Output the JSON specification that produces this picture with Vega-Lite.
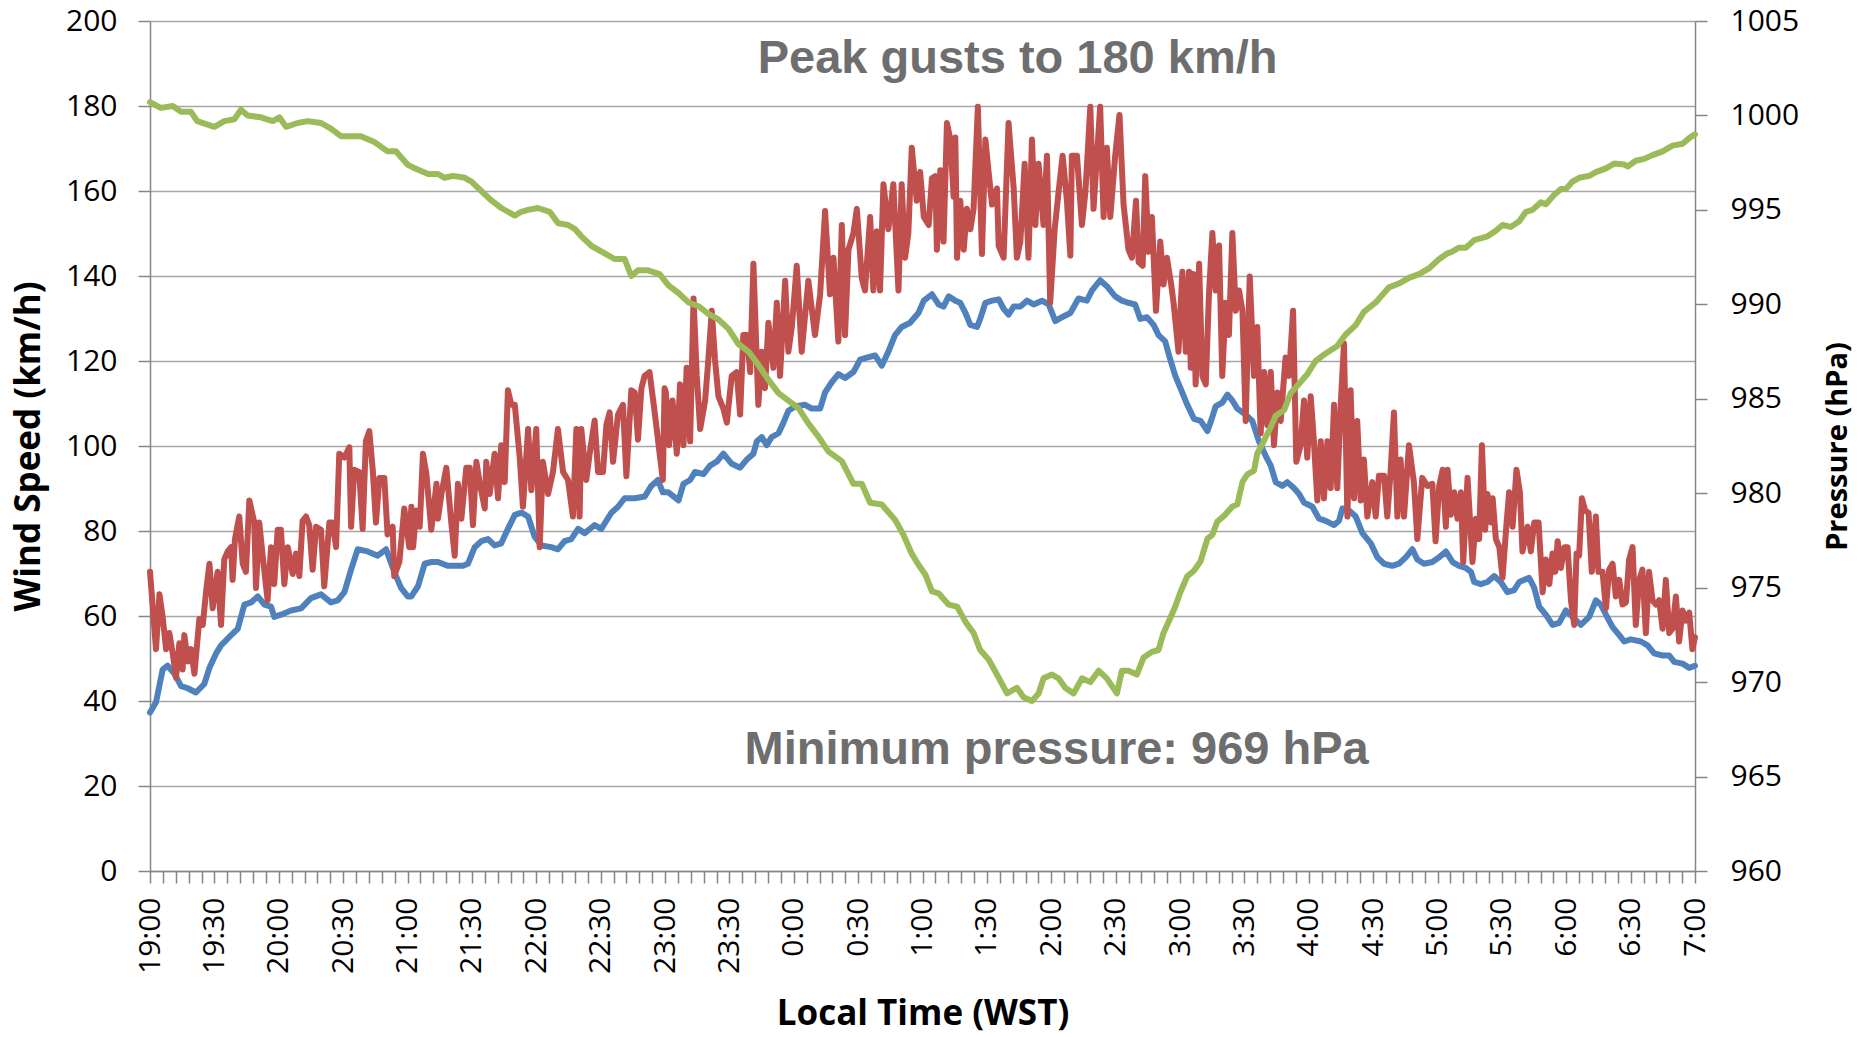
{
"$schema":"https://vega.github.io/schema/vega-lite/v6.json",
"width":1545,"height":850,
"autosize":{"type":"none"},
"padding":{"left":150,"top":21,"right":167,"bottom":166},
"background":"white",
"config":{"view":{"stroke":null},"font":"Open Sans"},
"datasets":{
"mean":[{"t":0,"v":37.3},{"t":2.8,"v":39.7},{"t":5.9,"v":47.4},{"t":8.2,"v":48.3},{"t":11.4,"v":46.4},{"t":14.5,"v":43.5},{"t":17.6,"v":43},{"t":21.4,"v":42},{"t":25.3,"v":44},{"t":27.7,"v":47.8},{"t":30.8,"v":51.2},{"t":33.1,"v":53.1},{"t":37.8,"v":55.5},{"t":40.9,"v":57},{"t":44,"v":62.7},{"t":47.1,"v":63.2},{"t":50.2,"v":64.6},{"t":53.3,"v":62.7},{"t":56.4,"v":62.2},{"t":57.9,"v":59.8},{"t":61,"v":60.3},{"t":65.7,"v":61.3},{"t":70.4,"v":61.8},{"t":75,"v":64.2},{"t":79.7,"v":65.1},{"t":84.3,"v":63.2},{"t":87.5,"v":63.7},{"t":90.6,"v":65.6},{"t":93.7,"v":70.9},{"t":96.8,"v":75.7},{"t":101.4,"v":75.2},{"t":106.1,"v":74.2},{"t":110,"v":75.7},{"t":113.8,"v":70.4},{"t":117,"v":66.6},{"t":120.1,"v":64.6},{"t":121.8,"v":64.6},{"t":124.9,"v":67},{"t":128,"v":72.3},{"t":131.1,"v":72.7},{"t":134.2,"v":72.7},{"t":138.9,"v":71.8},{"t":142,"v":71.8},{"t":145.9,"v":71.8},{"t":148.2,"v":72.3},{"t":151.3,"v":76.2},{"t":154.4,"v":77.6},{"t":157.5,"v":78.1},{"t":160.6,"v":76.6},{"t":163.7,"v":77.1},{"t":166.8,"v":80.5},{"t":170,"v":83.8},{"t":173.1,"v":84.3},{"t":176.2,"v":83.4},{"t":179.3,"v":78.6},{"t":182.4,"v":76.6},{"t":187,"v":76.2},{"t":190.1,"v":75.7},{"t":193.2,"v":77.6},{"t":196.3,"v":78.1},{"t":199.5,"v":80.5},{"t":202.6,"v":79.5},{"t":207.2,"v":81.4},{"t":210.3,"v":80.5},{"t":215,"v":84.3},{"t":218.1,"v":85.7},{"t":221.2,"v":87.7},{"t":225.9,"v":87.7},{"t":230.5,"v":88.1},{"t":233.6,"v":90.6},{"t":236.7,"v":92},{"t":239,"v":89.1},{"t":241.6,"v":89.1},{"t":246.3,"v":87.2},{"t":248.6,"v":91.1},{"t":251.7,"v":92},{"t":254,"v":93.9},{"t":257.9,"v":93.4},{"t":261,"v":95.4},{"t":264.1,"v":96.3},{"t":267.2,"v":98.2},{"t":271.1,"v":95.8},{"t":275,"v":94.9},{"t":278.1,"v":96.8},{"t":281.2,"v":98.2},{"t":282.8,"v":101.1},{"t":285.1,"v":102.1},{"t":287.4,"v":100.2},{"t":289.7,"v":102.1},{"t":292.9,"v":103},{"t":295.2,"v":105.5},{"t":297.5,"v":108.3},{"t":300.6,"v":109.3},{"t":305.3,"v":109.7},{"t":308.4,"v":108.8},{"t":312.3,"v":108.8},{"t":314.6,"v":112.6},{"t":317.7,"v":115},{"t":320.8,"v":116.9},{"t":323.9,"v":116},{"t":327.8,"v":117.4},{"t":330.9,"v":120.3},{"t":334,"v":120.8},{"t":337.9,"v":121.3},{"t":341,"v":118.9},{"t":344.1,"v":122.2},{"t":347.2,"v":126.1},{"t":350.3,"v":128},{"t":354.2,"v":129},{"t":358.1,"v":131.3},{"t":360.6,"v":134.2},{"t":364.4,"v":135.7},{"t":367.5,"v":133.3},{"t":369.8,"v":132.8},{"t":372.2,"v":135.2},{"t":375.3,"v":134.2},{"t":377.6,"v":133.7},{"t":380,"v":131.3},{"t":382.3,"v":128.5},{"t":385.4,"v":128},{"t":386.9,"v":129.9},{"t":389.3,"v":133.7},{"t":392.4,"v":134.2},{"t":395.5,"v":134.5},{"t":397.8,"v":132.3},{"t":400.1,"v":130.9},{"t":402.5,"v":132.8},{"t":405.6,"v":132.8},{"t":408.7,"v":134.2},{"t":411.8,"v":133.3},{"t":415.7,"v":134.2},{"t":418.8,"v":133.3},{"t":421.9,"v":129.4},{"t":425,"v":130.3},{"t":428.9,"v":131.3},{"t":432.7,"v":134.7},{"t":436.6,"v":134.2},{"t":439,"v":136.6},{"t":442.8,"v":139},{"t":445.9,"v":137.6},{"t":449.8,"v":135.2},{"t":452.9,"v":134.2},{"t":456,"v":133.7},{"t":459.1,"v":133.3},{"t":461.5,"v":129.9},{"t":464.6,"v":130.3},{"t":467.7,"v":128.5},{"t":470,"v":126.1},{"t":473.1,"v":124.6},{"t":475.5,"v":120.3},{"t":477.8,"v":116.5},{"t":480.3,"v":113.5},{"t":483.4,"v":109.7},{"t":486.5,"v":106.4},{"t":489.6,"v":105.9},{"t":492.8,"v":103.5},{"t":495.1,"v":106.9},{"t":496.6,"v":109.3},{"t":499.7,"v":110.2},{"t":502.1,"v":112.1},{"t":504.4,"v":110.7},{"t":506.7,"v":108.8},{"t":510.6,"v":107.4},{"t":513.7,"v":105.9},{"t":516.8,"v":101.1},{"t":519.9,"v":97.7},{"t":522.3,"v":95.4},{"t":524.6,"v":91.5},{"t":527.7,"v":90.6},{"t":530,"v":91.5},{"t":533.1,"v":90.1},{"t":535.5,"v":88.7},{"t":537.8,"v":86.7},{"t":541.7,"v":85.7},{"t":544.8,"v":82.9},{"t":547.9,"v":82.4},{"t":551.8,"v":81.4},{"t":554.1,"v":82.4},{"t":555.7,"v":85.3},{"t":558.8,"v":84.8},{"t":561.9,"v":83.4},{"t":565,"v":79.5},{"t":568.9,"v":77.1},{"t":572,"v":73.8},{"t":575.1,"v":72.3},{"t":578.9,"v":71.8},{"t":582,"v":72.3},{"t":585.2,"v":73.8},{"t":588.3,"v":75.7},{"t":590.6,"v":73.3},{"t":593.7,"v":72.3},{"t":597.6,"v":72.7},{"t":600.8,"v":73.8},{"t":603.9,"v":75.2},{"t":607,"v":72.7},{"t":610.1,"v":71.8},{"t":613.2,"v":71.3},{"t":615.6,"v":70.4},{"t":617.1,"v":68},{"t":620.2,"v":67.5},{"t":623.3,"v":68},{"t":626.4,"v":69.4},{"t":629.5,"v":68},{"t":632.6,"v":65.6},{"t":635.7,"v":66.1},{"t":638.1,"v":68},{"t":642.7,"v":69},{"t":645.1,"v":66.6},{"t":647.4,"v":62.2},{"t":650.5,"v":60.3},{"t":653.6,"v":57.9},{"t":656.7,"v":58.4},{"t":659.8,"v":61.3},{"t":662.9,"v":59.8},{"t":666.8,"v":57.9},{"t":670.7,"v":59.8},{"t":673.8,"v":63.7},{"t":676.1,"v":62.7},{"t":678.5,"v":60.3},{"t":681.6,"v":57.4},{"t":684.7,"v":55.5},{"t":687,"v":54},{"t":690.1,"v":54.5},{"t":694.8,"v":54},{"t":697.9,"v":53.1},{"t":701,"v":51.2},{"t":704.9,"v":50.7},{"t":708,"v":50.7},{"t":710.3,"v":49.2},{"t":714.2,"v":48.8},{"t":717.3,"v":47.8},{"t":720,"v":48.3}],
"gust":[{"t":0,"v":70.4},{"t":2.8,"v":52.2},{"t":4.4,"v":65.1},{"t":5.9,"v":59.8},{"t":7.5,"v":52.2},{"t":9,"v":56},{"t":10.6,"v":51.2},{"t":12.1,"v":45.5},{"t":13.7,"v":53.6},{"t":15.2,"v":47.4},{"t":16,"v":55.5},{"t":17.6,"v":49.3},{"t":19.1,"v":52.2},{"t":20.7,"v":46.4},{"t":23,"v":59.3},{"t":24.6,"v":57.9},{"t":26.1,"v":65.6},{"t":27.7,"v":72.3},{"t":29.2,"v":61.8},{"t":31.5,"v":70.4},{"t":33.1,"v":57.9},{"t":34.6,"v":73.3},{"t":36.2,"v":75.2},{"t":37.8,"v":76.2},{"t":38.5,"v":68.5},{"t":39.6,"v":78.1},{"t":41.6,"v":83.4},{"t":43.2,"v":72.3},{"t":44.7,"v":70.4},{"t":46.3,"v":87.2},{"t":48.6,"v":82},{"t":49.4,"v":66.6},{"t":50.9,"v":82},{"t":52.5,"v":74.2},{"t":54.8,"v":63.7},{"t":56.4,"v":76.2},{"t":57.9,"v":67.5},{"t":59.5,"v":80.3},{"t":61,"v":80.3},{"t":62.6,"v":67.5},{"t":64.2,"v":76.2},{"t":66.5,"v":69.9},{"t":68,"v":74.7},{"t":69.6,"v":69.4},{"t":71.1,"v":82.4},{"t":72.7,"v":83.4},{"t":74.2,"v":81.4},{"t":75.8,"v":70.9},{"t":77.4,"v":81},{"t":79.7,"v":80.3},{"t":81.2,"v":67},{"t":83.6,"v":82},{"t":85.1,"v":82},{"t":86.7,"v":76.2},{"t":88.2,"v":98.2},{"t":90.6,"v":97.3},{"t":92.9,"v":99.7},{"t":93.7,"v":81},{"t":95.2,"v":94.4},{"t":97.5,"v":93.9},{"t":99.1,"v":80.5},{"t":100.6,"v":101.1},{"t":102.2,"v":103.5},{"t":103.8,"v":94.4},{"t":105.3,"v":82},{"t":106.9,"v":92.5},{"t":109.2,"v":92.5},{"t":110.7,"v":79.2},{"t":113.1,"v":81},{"t":113.8,"v":69.4},{"t":116.2,"v":72.7},{"t":118.5,"v":85.3},{"t":120.8,"v":76.2},{"t":121.8,"v":85.7},{"t":122.6,"v":76.2},{"t":124.1,"v":84.8},{"t":125.7,"v":81},{"t":127.2,"v":98.2},{"t":128.8,"v":93.4},{"t":131.1,"v":80.3},{"t":133.5,"v":91.1},{"t":134.2,"v":82.9},{"t":135.8,"v":88.7},{"t":138.1,"v":94.9},{"t":140.4,"v":82},{"t":142,"v":74.2},{"t":143.5,"v":91.1},{"t":145.1,"v":82.9},{"t":147.4,"v":94.9},{"t":149,"v":94.9},{"t":150.5,"v":81.4},{"t":152.1,"v":96.3},{"t":153.6,"v":91.5},{"t":156,"v":85.3},{"t":156.7,"v":96.3},{"t":158.3,"v":88.7},{"t":160.6,"v":98.2},{"t":162.2,"v":87.7},{"t":163.7,"v":100.2},{"t":165.3,"v":91.5},{"t":166.8,"v":113.1},{"t":168.4,"v":109.7},{"t":170,"v":109.7},{"t":172.3,"v":97.3},{"t":173.8,"v":85.7},{"t":176.2,"v":104},{"t":177.7,"v":89.6},{"t":180,"v":104},{"t":181.6,"v":76.2},{"t":183.1,"v":96.3},{"t":185.5,"v":88.7},{"t":187.8,"v":93.9},{"t":190.1,"v":104},{"t":192.5,"v":93.9},{"t":194.8,"v":92},{"t":197.1,"v":83.4},{"t":198.7,"v":104},{"t":200.2,"v":83.4},{"t":201,"v":104},{"t":203.3,"v":92},{"t":204.9,"v":98.2},{"t":207.2,"v":106},{"t":208.8,"v":93.9},{"t":211.1,"v":93.9},{"t":212.7,"v":105},{"t":214.2,"v":107.9},{"t":215.8,"v":96.3},{"t":218.1,"v":107.4},{"t":220.4,"v":109.7},{"t":222,"v":92.9},{"t":224.3,"v":113.1},{"t":225.9,"v":112.6},{"t":227.4,"v":101.5},{"t":229,"v":113.6},{"t":230.5,"v":116.5},{"t":232.8,"v":117.4},{"t":235.2,"v":107.9},{"t":237.5,"v":98.2},{"t":239,"v":92},{"t":239.8,"v":113.6},{"t":240.4,"v":112.6},{"t":241.9,"v":100.2},{"t":243.5,"v":110.7},{"t":245.5,"v":98.2},{"t":247,"v":114.5},{"t":248.6,"v":100.2},{"t":250.1,"v":118.4},{"t":251.7,"v":101.1},{"t":253.3,"v":134.7},{"t":254.8,"v":116.5},{"t":256.4,"v":104},{"t":258.7,"v":110.7},{"t":260.2,"v":120.3},{"t":261.8,"v":131.8},{"t":263.3,"v":120.3},{"t":264.9,"v":111.7},{"t":267.2,"v":108.8},{"t":268.8,"v":105.5},{"t":271.1,"v":116.5},{"t":273.4,"v":117.4},{"t":275,"v":107.4},{"t":276.5,"v":126.1},{"t":278.1,"v":126.1},{"t":279.7,"v":117.4},{"t":281.2,"v":142.9},{"t":283.5,"v":109.7},{"t":285.1,"v":122.2},{"t":286.6,"v":113.6},{"t":288.2,"v":129},{"t":290.5,"v":118.4},{"t":292.1,"v":133.7},{"t":293.6,"v":116.5},{"t":296,"v":138.9},{"t":297.5,"v":122.2},{"t":299.1,"v":128},{"t":301.4,"v":142.4},{"t":303.7,"v":122.2},{"t":306.8,"v":138.9},{"t":309.9,"v":126.1},{"t":312.3,"v":135.7},{"t":314.6,"v":155.3},{"t":316.9,"v":135.7},{"t":318.5,"v":144.3},{"t":320.8,"v":124.6},{"t":322.4,"v":152},{"t":323.9,"v":126.1},{"t":325.5,"v":146.2},{"t":327.8,"v":150.1},{"t":329.4,"v":155.8},{"t":331.7,"v":139.5},{"t":333.2,"v":136.6},{"t":335.6,"v":153.9},{"t":337.1,"v":136.6},{"t":338.7,"v":150.5},{"t":340.2,"v":136.6},{"t":341.8,"v":161.6},{"t":344.1,"v":151},{"t":346.4,"v":161.6},{"t":348.8,"v":136.6},{"t":350.3,"v":161.6},{"t":351.9,"v":144.3},{"t":353.4,"v":150.1},{"t":355,"v":170.2},{"t":357.3,"v":157.7},{"t":358.9,"v":164.5},{"t":360.6,"v":153.9},{"t":362.9,"v":152},{"t":364.4,"v":163},{"t":366,"v":163.5},{"t":366.7,"v":146.2},{"t":368.3,"v":164.9},{"t":369.8,"v":148.1},{"t":371.4,"v":176},{"t":373,"v":172.1},{"t":374.5,"v":158.7},{"t":375.3,"v":172.6},{"t":376.1,"v":144.3},{"t":377.6,"v":157.7},{"t":379.2,"v":146.2},{"t":380.7,"v":155.8},{"t":382.3,"v":151},{"t":383.8,"v":155.8},{"t":385.8,"v":179.8},{"t":387.7,"v":145.2},{"t":389.3,"v":172.1},{"t":390.8,"v":164.5},{"t":392.4,"v":156.8},{"t":394.7,"v":160.6},{"t":395.5,"v":147.1},{"t":397.8,"v":144.3},{"t":400.1,"v":176},{"t":402.5,"v":160.6},{"t":404,"v":144.3},{"t":405.6,"v":148.1},{"t":407.6,"v":166.4},{"t":409.4,"v":144.3},{"t":411,"v":172.1},{"t":412.6,"v":152},{"t":414.1,"v":166.4},{"t":416.4,"v":152},{"t":418,"v":168.3},{"t":419.5,"v":133.7},{"t":421.6,"v":151},{"t":423.4,"v":159.7},{"t":425.3,"v":168.3},{"t":427.3,"v":157.7},{"t":428.9,"v":144.8},{"t":429.6,"v":168.3},{"t":432,"v":168.3},{"t":434.3,"v":152},{"t":435.9,"v":159.7},{"t":438.2,"v":179.8},{"t":439.7,"v":155.8},{"t":442.8,"v":179.8},{"t":444.4,"v":153.9},{"t":445.9,"v":170.2},{"t":447.5,"v":153.9},{"t":449.8,"v":168.3},{"t":451.8,"v":177.9},{"t":453.7,"v":156.8},{"t":456,"v":146.2},{"t":457.6,"v":144.3},{"t":459.5,"v":157.7},{"t":460.7,"v":143.3},{"t":462.6,"v":142.4},{"t":463.8,"v":163.5},{"t":465.4,"v":145.7},{"t":466.9,"v":153.9},{"t":468.8,"v":131.8},{"t":470.8,"v":148.1},{"t":472.3,"v":138},{"t":473.9,"v":144.3},{"t":475.9,"v":138},{"t":477,"v":133.7},{"t":479.3,"v":122.2},{"t":481.1,"v":141},{"t":482.7,"v":122.2},{"t":484.2,"v":141},{"t":485,"v":118.4},{"t":486.1,"v":140.5},{"t":487.3,"v":114.5},{"t":488.9,"v":142.9},{"t":490.4,"v":116.5},{"t":492,"v":114.5},{"t":493.5,"v":135.7},{"t":495.1,"v":150.1},{"t":496.6,"v":136.6},{"t":498.2,"v":147.2},{"t":499.7,"v":116.5},{"t":501.3,"v":133.7},{"t":502.8,"v":126.1},{"t":504.4,"v":150.1},{"t":506,"v":131.8},{"t":507.5,"v":136.6},{"t":509.1,"v":131.8},{"t":510.6,"v":105.9},{"t":512.5,"v":139.9},{"t":514.5,"v":116.5},{"t":516,"v":128},{"t":517.6,"v":103},{"t":519.2,"v":117.4},{"t":520.7,"v":104.9},{"t":522.3,"v":117.4},{"t":523.8,"v":100.2},{"t":525.4,"v":112.6},{"t":526.9,"v":105.9},{"t":529.2,"v":120.8},{"t":530.8,"v":116.5},{"t":532.7,"v":131.8},{"t":534.2,"v":96.3},{"t":536.2,"v":100.2},{"t":537.8,"v":110.7},{"t":539.3,"v":97.3},{"t":540.9,"v":111.7},{"t":542.4,"v":101.1},{"t":544,"v":87.2},{"t":545.6,"v":101.1},{"t":547.1,"v":87.7},{"t":548.7,"v":101.1},{"t":550.2,"v":90.1},{"t":551.8,"v":109.7},{"t":553.3,"v":90.1},{"t":554.9,"v":109.7},{"t":556.4,"v":124.1},{"t":558,"v":83.4},{"t":559.5,"v":113.1},{"t":561.1,"v":87.7},{"t":562.6,"v":105.9},{"t":564.2,"v":87.2},{"t":565.7,"v":96.8},{"t":567.3,"v":83.4},{"t":569.6,"v":91.5},{"t":571.2,"v":83.4},{"t":572.7,"v":93},{"t":575.1,"v":93},{"t":576.6,"v":83.4},{"t":578.2,"v":94.4},{"t":579.7,"v":107.9},{"t":581.3,"v":83.4},{"t":582.8,"v":96.8},{"t":584.4,"v":83.4},{"t":586.7,"v":100.2},{"t":589,"v":91.5},{"t":590.6,"v":78.1},{"t":592.9,"v":92.5},{"t":595.3,"v":90.6},{"t":597.6,"v":91.1},{"t":599.1,"v":77.6},{"t":600.8,"v":90.6},{"t":602.4,"v":94.4},{"t":603.9,"v":81},{"t":604.7,"v":94.4},{"t":606.2,"v":83.8},{"t":607.8,"v":89.1},{"t":609.3,"v":82.9},{"t":610.9,"v":89.1},{"t":612,"v":72.7},{"t":614,"v":92.5},{"t":616.3,"v":72.7},{"t":617.9,"v":82.9},{"t":619.4,"v":78.1},{"t":620.7,"v":100.2},{"t":622.2,"v":80.3},{"t":623.3,"v":88.7},{"t":624.9,"v":82},{"t":625.7,"v":87.7},{"t":627.2,"v":78.1},{"t":628.8,"v":76.2},{"t":630.3,"v":69},{"t":632.2,"v":82},{"t":633.4,"v":89.1},{"t":635,"v":81},{"t":636.8,"v":94.4},{"t":638.4,"v":89.1},{"t":639.6,"v":75.2},{"t":642,"v":81},{"t":643.5,"v":75.2},{"t":645.1,"v":82},{"t":647.1,"v":82},{"t":649,"v":65.6},{"t":650.5,"v":73.3},{"t":652.1,"v":67.5},{"t":653.6,"v":74.7},{"t":654.9,"v":70.4},{"t":656,"v":77.6},{"t":657.5,"v":71.3},{"t":659.1,"v":76.2},{"t":660.6,"v":76.2},{"t":662.2,"v":63.7},{"t":663.7,"v":57.9},{"t":664.8,"v":74.7},{"t":666,"v":74.2},{"t":667.3,"v":87.7},{"t":668.8,"v":84.8},{"t":670.4,"v":84.3},{"t":671.9,"v":70.4},{"t":673.8,"v":83.4},{"t":675,"v":70.4},{"t":676.9,"v":70.4},{"t":678.5,"v":61.8},{"t":680,"v":70.9},{"t":681.6,"v":72.3},{"t":683.1,"v":64.6},{"t":684.7,"v":68.5},{"t":686.2,"v":62.7},{"t":687.8,"v":63.2},{"t":689.3,"v":73.3},{"t":690.9,"v":76.2},{"t":692.4,"v":57.9},{"t":694,"v":68.5},{"t":695.5,"v":70.9},{"t":697.1,"v":56},{"t":698.6,"v":70.4},{"t":700.2,"v":63.7},{"t":701.8,"v":62.7},{"t":703.3,"v":63.7},{"t":704.9,"v":57},{"t":706.4,"v":68.5},{"t":708,"v":56},{"t":709.5,"v":57},{"t":711.1,"v":64.6},{"t":712.6,"v":54},{"t":714.2,"v":61.3},{"t":715.7,"v":58.9},{"t":717.3,"v":60.8},{"t":718.8,"v":52.2},{"t":720,"v":55}],
"pres":[{"t":0,"v":1000.7},{"t":5,"v":1000.4},{"t":10.6,"v":1000.5},{"t":14.5,"v":1000.2},{"t":19,"v":1000.2},{"t":22,"v":999.7},{"t":30,"v":999.4},{"t":34.6,"v":999.7},{"t":39.3,"v":999.8},{"t":42.4,"v":1000.3},{"t":45.5,"v":1000},{"t":51.7,"v":999.9},{"t":57.2,"v":999.7},{"t":60.3,"v":999.9},{"t":63.4,"v":999.4},{"t":68.8,"v":999.6},{"t":73.5,"v":999.7},{"t":79.7,"v":999.6},{"t":84.3,"v":999.3},{"t":89,"v":998.9},{"t":98.3,"v":998.9},{"t":104.5,"v":998.6},{"t":110.7,"v":998.1},{"t":114.6,"v":998.1},{"t":120,"v":997.4},{"t":123.4,"v":997.2},{"t":129.6,"v":996.9},{"t":134.2,"v":996.9},{"t":137.3,"v":996.7},{"t":141.2,"v":996.8},{"t":146.7,"v":996.7},{"t":149.8,"v":996.5},{"t":154.4,"v":996},{"t":159.1,"v":995.5},{"t":163.7,"v":995.1},{"t":170,"v":994.7},{"t":173,"v":994.9},{"t":176.2,"v":995},{"t":180.8,"v":995.1},{"t":186.3,"v":994.9},{"t":190.1,"v":994.3},{"t":194.8,"v":994.2},{"t":197.9,"v":994},{"t":201,"v":993.6},{"t":205.7,"v":993.1},{"t":211.9,"v":992.7},{"t":216.5,"v":992.4},{"t":221.2,"v":992.4},{"t":224.3,"v":991.5},{"t":227.4,"v":991.8},{"t":232.1,"v":991.8},{"t":237.5,"v":991.6},{"t":241.6,"v":991},{"t":246.3,"v":990.6},{"t":250.9,"v":990.1},{"t":255.6,"v":989.9},{"t":260.2,"v":989.5},{"t":264.9,"v":989.2},{"t":269.6,"v":988.7},{"t":274.2,"v":987.9},{"t":278.9,"v":987.5},{"t":283.5,"v":986.8},{"t":288.2,"v":986},{"t":292.9,"v":985.3},{"t":297.5,"v":984.9},{"t":302.2,"v":984.5},{"t":306.8,"v":983.7},{"t":311.5,"v":983},{"t":316.2,"v":982.2},{"t":322.4,"v":981.7},{"t":327.8,"v":980.5},{"t":331.7,"v":980.5},{"t":335.6,"v":979.5},{"t":341,"v":979.4},{"t":347.2,"v":978.6},{"t":351.1,"v":977.8},{"t":355,"v":976.8},{"t":358.2,"v":976.2},{"t":361.3,"v":975.7},{"t":364.4,"v":974.8},{"t":367.5,"v":974.7},{"t":372.2,"v":974.1},{"t":376.1,"v":974},{"t":380,"v":973.2},{"t":383.8,"v":972.6},{"t":386.9,"v":971.7},{"t":390.8,"v":971.2},{"t":394.7,"v":970.4},{"t":399.4,"v":969.4},{"t":404,"v":969.7},{"t":407.1,"v":969.2},{"t":411,"v":969},{"t":414.1,"v":969.4},{"t":416.4,"v":970.2},{"t":420.3,"v":970.4},{"t":423.4,"v":970.2},{"t":426.5,"v":969.7},{"t":430.4,"v":969.4},{"t":434.3,"v":970.2},{"t":438.2,"v":970},{"t":442.1,"v":970.6},{"t":445.9,"v":970.2},{"t":450.6,"v":969.4},{"t":452.9,"v":970.6},{"t":456,"v":970.6},{"t":459.9,"v":970.4},{"t":463,"v":971.3},{"t":466.9,"v":971.6},{"t":470,"v":971.7},{"t":472.3,"v":972.6},{"t":474.7,"v":973.2},{"t":477.8,"v":974},{"t":480.3,"v":974.8},{"t":483.4,"v":975.6},{"t":486.5,"v":975.9},{"t":489.6,"v":976.4},{"t":492.8,"v":977.6},{"t":495.1,"v":977.8},{"t":497.4,"v":978.5},{"t":500.5,"v":978.8},{"t":504.4,"v":979.3},{"t":506.7,"v":979.4},{"t":509.1,"v":980.6},{"t":511.4,"v":981},{"t":514.5,"v":981.2},{"t":516,"v":982.1},{"t":519.2,"v":982.8},{"t":522.3,"v":983.5},{"t":524.6,"v":984.1},{"t":528.5,"v":984.4},{"t":531.6,"v":985.3},{"t":535.5,"v":985.8},{"t":539.3,"v":986.3},{"t":543.2,"v":987},{"t":547.9,"v":987.4},{"t":553.3,"v":987.8},{"t":557.2,"v":988.4},{"t":561.9,"v":988.9},{"t":565.7,"v":989.6},{"t":571.2,"v":990.1},{"t":577.4,"v":990.9},{"t":582,"v":991.1},{"t":586.7,"v":991.4},{"t":591.4,"v":991.6},{"t":596,"v":991.9},{"t":600.8,"v":992.4},{"t":604.7,"v":992.7},{"t":607,"v":992.8},{"t":610.1,"v":993},{"t":613.2,"v":993},{"t":617.1,"v":993.4},{"t":623.3,"v":993.6},{"t":627.2,"v":993.9},{"t":630.3,"v":994.2},{"t":634.2,"v":994.1},{"t":638.1,"v":994.4},{"t":641.2,"v":994.9},{"t":644.3,"v":995},{"t":648.2,"v":995.4},{"t":650.5,"v":995.3},{"t":654.4,"v":995.8},{"t":657.5,"v":996.1},{"t":659.8,"v":996.1},{"t":662.9,"v":996.5},{"t":666,"v":996.7},{"t":670.7,"v":996.8},{"t":673.8,"v":997},{"t":678.5,"v":997.2},{"t":682.3,"v":997.45},{"t":687,"v":997.4},{"t":688.6,"v":997.3},{"t":692.4,"v":997.6},{"t":696.3,"v":997.7},{"t":700.2,"v":997.9},{"t":704.9,"v":998.1},{"t":709.5,"v":998.4},{"t":714.2,"v":998.5},{"t":717.3,"v":998.8},{"t":720,"v":999}],
"notes":[{"t":404.3,"v":191.1,"label":"Peak gusts to 180 km/h"},{"t":422.5,"v":28.5,"label":"Minimum pressure: 969 hPa"}]
},
"layer":[
 {"layer":[
  {"data":{"name":"mean"},
   "mark":{"type":"line","color":"#4F81BD","strokeWidth":6,"strokeJoin":"round","strokeCap":"round"},
   "encoding":{
    "x":{"field":"t","type":"quantitative","scale":{"domain":[0,720],"nice":false,"zero":false},
     "axis":{"orient":"bottom","tickCount":200,"values":[0,6,12,18,24,30,36,42,48,54,60,66,72,78,84,90,96,102,108,114,120,126,132,138,144,150,156,162,168,174,180,186,192,198,204,210,216,222,228,234,240,246,252,258,264,270,276,282,288,294,300,306,312,318,324,330,336,342,348,354,360,366,372,378,384,390,396,402,408,414,420,426,432,438,444,450,456,462,468,474,480,486,492,498,504,510,516,522,528,534,540,546,552,558,564,570,576,582,588,594,600,606,612,618,624,630,636,642,648,654,660,666,672,678,684,690,696,702,708,714,720],
      "labelExpr":"datum.value % 30 == 0 ? ((19 + floor(datum.value / 60)) % 24) + ':' + (datum.value % 60 == 0 ? '00' : '30') : ''",
      "labelAngle":-90,"labelAlign":"right","labelBaseline":"middle","labelPadding":14,"labelFontSize":30,"labelFont":"Open Sans","labelColor":"#000000","labelOverlap":false,"labelFlush":false,"labelBound":false,
      "tickSize":12,"tickColor":"#868686","tickWidth":1.5,"domainColor":"#868686","domainWidth":1.5,"grid":false,
      "title":"Local Time (WST)","titleFont":"Open Sans","titleFontSize":35,"titleFontWeight":"bold","titleColor":"#000000","titleX":772.5,"titleY":142,"titleBaseline":"middle","titleAlign":"center"}},
    "y":{"field":"v","type":"quantitative","scale":{"domain":[0,200],"nice":false,"zero":false},
     "axis":{"orient":"left","tickCount":20,"values":[0,20,40,60,80,100,120,140,160,180,200],"labelFontSize":30,"labelFont":"Open Sans","labelColor":"#000000","labelPadding":21,"labelFlush":false,"labelBound":false,
      "tickSize":12,"tickColor":"#868686","tickWidth":1.5,"domainColor":"#868686","domainWidth":1.5,"grid":true,"gridColor":"#a6a6a6","gridWidth":1.5,
      "title":"Wind Speed (km/h)","titleFont":"Open Sans","titleFontSize":35,"titleFontWeight":"bold","titleColor":"#000000","titleAngle":-90,"titleX":-122,"titleY":425,"titleBaseline":"middle","titleAlign":"center"}}
   }},
  {"data":{"name":"gust"},
   "mark":{"type":"line","color":"#C0504D","strokeWidth":6,"strokeJoin":"round","strokeCap":"round"},
   "encoding":{
    "x":{"field":"t","type":"quantitative","scale":{"domain":[0,720],"nice":false,"zero":false}},
    "y":{"field":"v","type":"quantitative","scale":{"domain":[0,200],"nice":false,"zero":false}}
   }},
  {"data":{"name":"notes"},
   "mark":{"type":"text","font":"Liberation Sans","fontSize":47,"fontWeight":"bold","color":"#6e6e6e","align":"center","baseline":"middle"},
   "encoding":{
    "x":{"field":"t","type":"quantitative","scale":{"domain":[0,720],"nice":false,"zero":false}},
    "y":{"field":"v","type":"quantitative","scale":{"domain":[0,200],"nice":false,"zero":false}},
    "text":{"field":"label","type":"nominal"}
   }}
 ]},
 {"data":{"name":"pres"},
  "mark":{"type":"line","color":"#9BBB59","strokeWidth":6,"strokeJoin":"round","strokeCap":"round"},
  "encoding":{
   "x":{"field":"t","type":"quantitative","scale":{"domain":[0,720],"nice":false,"zero":false}},
   "y":{"field":"v","type":"quantitative","scale":{"domain":[960,1005],"nice":false,"zero":false},
    "axis":{"orient":"right","tickCount":20,"format":"d","values":[960,965,970,975,980,985,990,995,1000,1005],"labelFontSize":30,"labelFont":"Open Sans","labelColor":"#000000","labelPadding":23,"labelFlush":false,"labelBound":false,
     "tickSize":12,"tickColor":"#868686","tickWidth":1.5,"domainColor":"#868686","domainWidth":1.5,"grid":false,
     "title":"Pressure (hPa)","titleFont":"Open Sans","titleFontSize":29,"titleFontWeight":"bold","titleColor":"#000000","titleAngle":-90,"titleX":142,"titleY":425,"titleBaseline":"middle","titleAlign":"center"}}
  }}
],
"resolve":{"scale":{"y":"independent"}}
}
